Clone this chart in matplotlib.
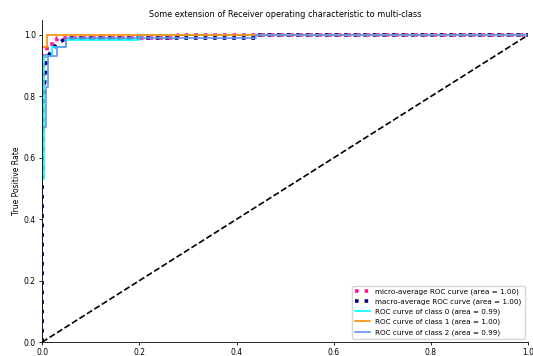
import matplotlib
matplotlib.use("Agg")
import matplotlib.pyplot as plt

# ROC points (false positive rate, true positive rate)
micro_fpr = [0.0, 0.0, 0.004, 0.004, 0.01, 0.01, 0.03, 0.03, 0.28, 0.28, 1.0]
micro_tpr = [0.0, 0.80, 0.80, 0.93, 0.93, 0.97, 0.97, 0.99, 0.99, 1.0, 1.0]

macro_fpr = [0.0, 0.0, 0.004, 0.008, 0.012, 0.02, 0.03, 0.05, 0.44, 0.44, 1.0]
macro_tpr = [0.0, 0.74, 0.82, 0.90, 0.93, 0.95, 0.97, 0.99, 0.99, 1.0, 1.0]

class0_fpr = [0.0, 0.0, 0.004, 0.004, 0.02, 0.02, 0.05, 0.05, 0.2, 0.2, 1.0]
class0_tpr = [0.0, 0.53, 0.53, 0.93, 0.93, 0.96, 0.96, 0.985, 0.985, 1.0, 1.0]

class1_fpr = [0.0, 0.0, 0.01, 0.01, 1.0]
class1_tpr = [0.0, 0.96, 0.96, 1.0, 1.0]

class2_fpr = [0.0, 0.0, 0.008, 0.008, 0.012, 0.012, 0.03, 0.03, 0.05, 0.05, 0.44, 0.44, 1.0]
class2_tpr = [0.0, 0.70, 0.70, 0.83, 0.83, 0.93, 0.93, 0.96, 0.96, 0.99, 0.99, 1.0, 1.0]

areas = {"micro": 1.00, "macro": 1.00, 0: 0.99, 1: 1.00, 2: 0.99}

plt.rcParams["font.size"] = 5.5

fig = plt.figure(figsize=(5.33, 3.56), dpi=100)
ax = fig.add_axes([0.079, 0.039, 0.912, 0.906])

lw = 1.2
ax.plot(micro_fpr, micro_tpr, color="deeppink", linestyle=":", linewidth=2.6,
        label="micro-average ROC curve (area = {0:0.2f})".format(areas["micro"]))
ax.plot(macro_fpr, macro_tpr, color="navy", linestyle=":", linewidth=2.6,
        label="macro-average ROC curve (area = {0:0.2f})".format(areas["macro"]))

colors = ["aqua", "darkorange", "cornflowerblue"]
curves = [(class0_fpr, class0_tpr), (class1_fpr, class1_tpr), (class2_fpr, class2_tpr)]
for i, ((fpr, tpr), color) in enumerate(zip(curves, colors)):
    ax.plot(fpr, tpr, color=color, lw=lw,
            label="ROC curve of class {0} (area = {1:0.2f})".format(i, areas[i]))

ax.plot([0, 1], [0, 1], "k--", lw=lw)
ax.set_xlim([0.0, 1.0])
ax.set_ylim([0.0, 1.05])
ax.set_ylabel("True Positive Rate", labelpad=2)
ax.set_title("Some extension of Receiver operating characteristic to multi-class",
             fontsize=5.9, pad=1.5)
ax.spines["top"].set_visible(False)
ax.spines["right"].set_visible(False)
ax.tick_params(length=2.5, width=0.6, pad=2)
for s in ("left", "bottom"):
    ax.spines[s].set_linewidth(0.6)
ax.legend(loc="lower right", fontsize=5.2)

fig.savefig("out.png", dpi=100)
